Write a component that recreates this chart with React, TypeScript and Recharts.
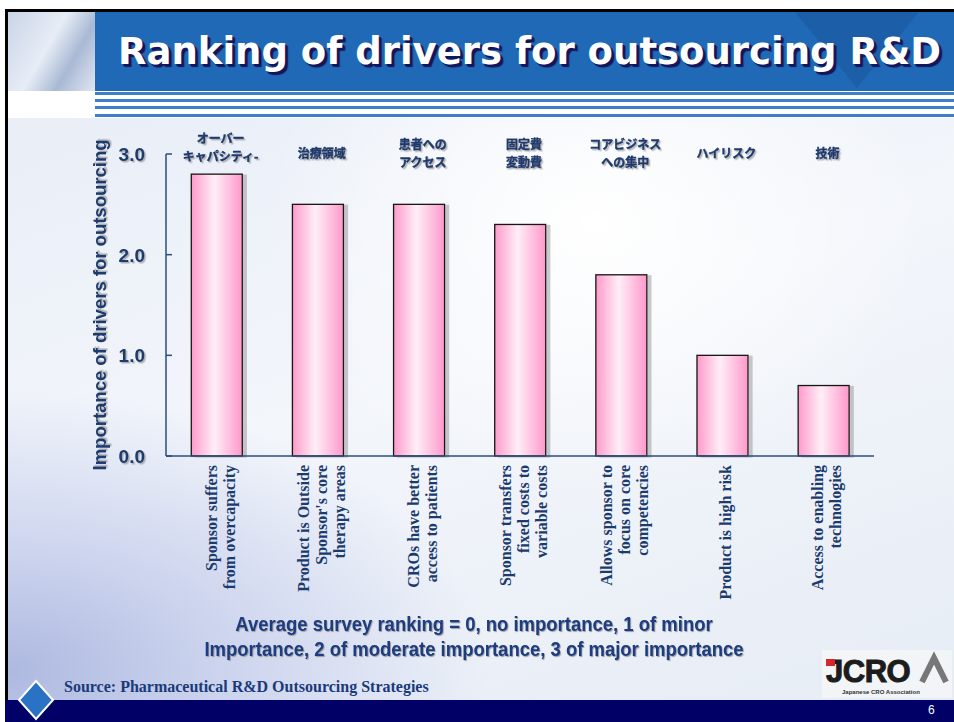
import { Bar, BarChart, XAxis, YAxis } from "recharts";

const drivers: string[] = [
  "Sponsor suffers from overcapacity",
  "Product is Outside Sponsor's core therapy areas",
  "CROs have better access to patients",
  "Sponsor transfers fixed costs to variable costs",
  "Allows sponsor to focus on core competencies",
  "Product is high risk",
  "Access to enabling technologies",
];

const driverLines: string[][] = [
  ["Sponsor suffers", "from overcapacity"],
  ["Product is Outside", "Sponsor's core", "therapy areas"],
  ["CROs have better", "access to patients"],
  ["Sponsor transfers", "fixed costs to", "variable costs"],
  ["Allows sponsor to", "focus on core", "competencies"],
  ["Product is high risk"],
  ["Access to enabling", "technologies"],
];

const jpLabels: string[][] = [
  ["オーバー", "キャパシティ-"],
  ["治療領域"],
  ["患者への", "アクセス"],
  ["固定費", "変動費"],
  ["コアビジネス", "への集中"],
  ["ハイリスク"],
  ["技術"],
];

const scores: number[] = [2.8, 2.5, 2.5, 2.3, 1.8, 1.0, 0.7];

const yTicks: number[] = [0, 1, 2, 3];

const navy = "#1b3a6e";
const axisColor = "#2c4c7c";

const chartData = drivers.map((name, i) => ({
  name,
  jp: jpLabels[i].join(""),
  score: scores[i],
}));

const edgeTicks = drivers.map((_, i) => i + 1);

function EnglishTick(props: any) {
  const { x, y, payload } = props;
  const lines = driverLines[payload.index] ?? [payload.value];
  const n = lines.length;
  return (
    <g>
      {lines.map((line, i) => {
        const dx = (i - (n - 1) / 2) * 18 + 9;
        return (
          <text
            key={line}
            transform={`translate(${x + dx}, ${y}) rotate(-90)`}
            textAnchor="end"
            fill={navy}
            fontFamily="'Liberation Serif', 'Times New Roman', serif"
            fontWeight={700}
            fontSize={16}
          >
            {line}
          </text>
        );
      })}
    </g>
  );
}

function JapaneseTick(props: any) {
  const { x, payload } = props;
  const lines = jpLabels[payload.index] ?? [payload.value];
  const n = lines.length;
  // the first label sits a little higher in the slide
  const lift = payload.index === 0 ? 6 : 0;
  return (
    <g filter="url(#txtShadow)">
      {lines.map((line, i) => (
        <text
          key={line}
          x={x + 4}
          y={158 - lift + (i - (n - 1) / 2) * 17.5}
          textAnchor="middle"
          fill={navy}
          stroke={navy}
          strokeWidth={0.4}
          fontFamily="'Noto Sans CJK JP', sans-serif"
          fontWeight={700}
          fontSize={12}
        >
          {line}
        </text>
      ))}
    </g>
  );
}

function ValueTick(props: any) {
  const { x, y, payload } = props;
  return (
    <text
      x={x}
      y={y}
      dy={7}
      textAnchor="end"
      fill={navy}
      fontFamily="'Liberation Sans', Arial, sans-serif"
      fontWeight={700}
      fontSize={19}
      filter="url(#txtShadow)"
    >
      {Number(payload.value).toFixed(1)}
    </text>
  );
}

function YTitle(props: any) {
  const { viewBox } = props;
  const cy = viewBox.y + viewBox.height / 2;
  return (
    <text
      transform={`translate(106, ${cy}) rotate(-90)`}
      textAnchor="middle"
      fill={navy}
      fontFamily="'Liberation Sans', Arial, sans-serif"
      fontWeight={700}
      fontSize={18.5}
      filter="url(#txtShadow)"
    >
      Importance of drivers for outsourcing
    </text>
  );
}

function PinkBar(props: any) {
  const { x, y, width, height } = props;
  return (
    <rect
      x={x}
      y={y}
      width={width}
      height={height}
      fill="url(#barFill)"
      stroke="#161616"
      strokeWidth={1.3}
      filter="url(#barShadow)"
    />
  );
}

export default function App() {
  return (
    <div
      style={{
        position: "absolute",
        left: 0,
        top: 0,
        width: 954,
        height: 722,
        overflow: "hidden",
        background: "#ffffff",
      }}
    >
      {/* slide body background */}
      <div
        style={{
          position: "absolute",
          left: 8,
          top: 118,
          width: 946,
          height: 582,
          background:
            "radial-gradient(ellipse at 0% 95%, #aeb9e0 0%, rgba(186,196,232,0.65) 16%, rgba(255,255,255,0) 36%), radial-gradient(ellipse at 62% 18%, #ffffff 0%, rgba(255,255,255,0) 40%), linear-gradient(160deg, #e9eef7 0%, #f3f6fb 45%, #e6ecf5 100%)",
        }}
      />
      {/* frame */}
      <div style={{ position: "absolute", left: 5, top: 9, width: 949, height: 3, background: "#000" }} />
      <div style={{ position: "absolute", left: 5, top: 9, width: 3, height: 700, background: "#000" }} />
      {/* header */}
      <div
        style={{
          position: "absolute",
          left: 8,
          top: 12,
          width: 87,
          height: 79,
          background: "linear-gradient(120deg, #c9d4e6 0%, #e7edf6 45%, #a9b9d4 70%, #dfe6f2 100%)",
        }}
      />
      <div style={{ position: "absolute", left: 95, top: 12, width: 859, height: 79, background: "#1f69b6" }}>
        <div
          style={{
            position: "absolute",
            left: 700,
            top: 0,
            width: 0,
            height: 0,
            borderLeft: "62px solid transparent",
            borderRight: "62px solid transparent",
            borderTop: "76px solid rgba(20,60,120,0.22)",
          }}
        />
      </div>
      <div
        style={{
          position: "absolute",
          left: 118,
          top: 29,
          color: "#ffffff",
          fontFamily: "'DejaVu Sans', Verdana, sans-serif",
          fontWeight: 700,
          fontSize: 37,
          whiteSpace: "nowrap",
          textShadow: "2px 2px 0 #15155a, 3px 3px 1px #15155a",
          lineHeight: "46px",
        }}
      >
        Ranking of drivers for outsourcing R&amp;D
      </div>
      {[92, 99, 106, 114].map((t) => (
        <div
          key={t}
          style={{ position: "absolute", left: 95, top: t, width: 859, height: 3, background: "#3f7fc8" }}
        />
      ))}

      <BarChart
        width={954}
        height={722}
        data={chartData}
        margin={{ top: 153, right: 80, bottom: 264, left: 106 }}
        barCategoryGap="25%"
        style={{ position: "absolute", left: 0, top: 0 }}
      >
        <defs>
          <linearGradient id="barFill" x1="0" y1="0" x2="1" y2="0">
            <stop offset="0%" stopColor="#ff9acb" />
            <stop offset="45%" stopColor="#ffeef7" />
            <stop offset="100%" stopColor="#ff98cb" />
          </linearGradient>
          <filter id="barShadow" x="-10%" y="-10%" width="130%" height="120%">
            <feDropShadow dx="4" dy="1" stdDeviation="0.6" floodColor="#8a8a8a" floodOpacity="0.45" />
          </filter>
          <filter id="txtShadow" x="-10%" y="-30%" width="130%" height="160%">
            <feDropShadow dx="1.5" dy="1.5" stdDeviation="0.6" floodColor="#777" floodOpacity="0.55" />
          </filter>
        </defs>
        <XAxis
          xAxisId="cat"
          dataKey="name"
          height={1}
          interval={0}
          tickLine={false}
          tickSize={0}
          tickMargin={9}
          axisLine={{ stroke: axisColor, strokeWidth: 1.5 }}
          tick={EnglishTick}
        />
        <XAxis
          xAxisId="edge"
          type="number"
          domain={[0, 7]}
          ticks={edgeTicks}
          allowDataOverflow
          height={1}
          axisLine={false}
          tickSize={-6}
          tickLine={{ stroke: axisColor, strokeWidth: 1.5 }}
          tick={false}
        />
        <XAxis
          xAxisId="jp"
          dataKey="jp"
          orientation="top"
          height={1}
          interval={0}
          axisLine={false}
          tickLine={false}
          tick={JapaneseTick}
        />
        <YAxis
          width={60}
          domain={[0, 3]}
          ticks={yTicks}
          interval={0}
          tickSize={-6}
          tickMargin={27}
          axisLine={{ stroke: axisColor, strokeWidth: 1.5 }}
          tickLine={{ stroke: axisColor, strokeWidth: 1.5 }}
          tick={ValueTick}
          label={{ content: YTitle }}
        />
        <Bar xAxisId="cat" dataKey="score" isAnimationActive={false} shape={PinkBar} />
      </BarChart>

      {/* note */}
      <div
        style={{
          position: "absolute",
          left: 0,
          top: 611,
          width: 948,
          textAlign: "center",
          color: "#1d3c82",
          fontFamily: "'Liberation Sans', Arial, sans-serif",
          fontWeight: 700,
          fontSize: 21,
          lineHeight: "25px",
          transform: "scaleX(0.88)",
          transformOrigin: "474px 0",
          textShadow: "1px 1px 1px #9a9a9a",
        }}
      >
        Average survey ranking = 0, no importance, 1 of minor
        <br />
        Importance, 2 of moderate importance, 3 of major importance
      </div>

      {/* source */}
      <div
        style={{
          position: "absolute",
          left: 64,
          top: 678,
          color: "#1b3a7a",
          fontFamily: "'Liberation Serif', 'Times New Roman', serif",
          fontWeight: 700,
          fontSize: 16,
          whiteSpace: "nowrap",
        }}
      >
        Source: Pharmaceutical R&amp;D Outsourcing Strategies
      </div>

      {/* logo */}
      <svg width={130} height={48} style={{ position: "absolute", left: 822, top: 650 }}>
        <rect x={0} y={0} width={130} height={48} fill="#f5f6f8" opacity={0.8} />
        <text
          x={4}
          y={32}
          fontFamily="'Liberation Sans', Arial, sans-serif"
          fontWeight={900}
          fontSize={31}
          fill="#1c1c1c"
          stroke="#1c1c1c"
          strokeWidth={1}
          letterSpacing={-0.5}
        >
          JCRO
        </text>
        <rect x={4} y={9} width={9} height={7} fill="#d6262c" />
        <polyline points="100,32 112,8 124,32" fill="none" stroke="#777" strokeWidth={6} />
        <text
          x={20}
          y={44}
          fontFamily="'Liberation Sans', Arial, sans-serif"
          fontWeight={700}
          fontSize={6}
          fill="#333"
        >
          Japanese CRO Association
        </text>
      </svg>

      {/* footer */}
      <div style={{ position: "absolute", left: 5, top: 700, width: 949, height: 22, background: "#000066" }} />
      <div
        style={{
          position: "absolute",
          left: 928,
          top: 703,
          color: "#ffffff",
          fontFamily: "'Liberation Sans', Arial, sans-serif",
          fontSize: 12,
        }}
      >
        6
      </div>
      <svg width={40} height={44} style={{ position: "absolute", left: 16, top: 679 }}>
        <polygon points="20,2 37,21 20,40 3,21" fill="#2a72c4" stroke="#ffffff" strokeWidth={2} />
      </svg>
    </div>
  );
}
